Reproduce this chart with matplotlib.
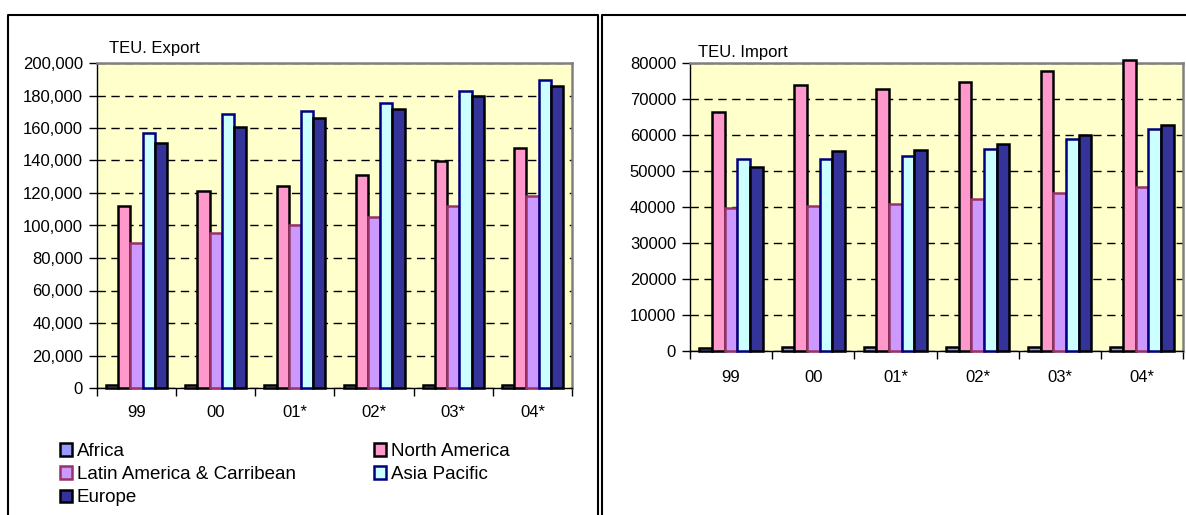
import matplotlib
matplotlib.use("Agg")
import matplotlib.pyplot as plt
import numpy as np
from matplotlib.lines import Line2D
from matplotlib.ticker import FuncFormatter, FixedLocator

plt.rcParams["font.family"] = ["Liberation Sans", "DejaVu Sans"]

years = ["99", "00", "01*", "02*", "03*", "04*"]
regions = ["Africa", "North America", "Latin America & Carribean", "Asia Pacific", "Europe"]

export_africa = [1800, 1800, 1800, 1900, 1900, 2000]
export_north_america = [112000, 121500, 124000, 131000, 139500, 147500]
export_latin_america = [89000, 95500, 100500, 105500, 112000, 118000]
export_asia_pacific = [157000, 168500, 170500, 175500, 182500, 189500]
export_europe = [151000, 160500, 166000, 172000, 180000, 186000]

import_africa = [900, 1000, 1100, 1100, 1200, 1200]
import_north_america = [66500, 74000, 72700, 74700, 77700, 80700]
import_latin_america = [39600, 40300, 40800, 42200, 44000, 45500]
import_asia_pacific = [53200, 53200, 54200, 56200, 59000, 61800]
import_europe = [51200, 55600, 55800, 57500, 60000, 62800]

faces = ["#9999FF", "#FF99CC", "#CC99FF", "#CCFFFF", "#333399"]
edges = ["black", "black", "#993366", "#000080", "black"]

W, H = 1186, 515
fig = plt.figure(figsize=(W / 100, H / 100), dpi=100)


def px(x0, y0, x1, y1):
    # pixel box -> figure fraction rect
    return [x0 / W, 1 - y1 / H, (x1 - x0) / W, (y1 - y0) / H]


def draw(ax, series, ymax, step, fmt, xpad):
    x = np.arange(len(years))
    w = 1 / 6.5
    bars = []
    for j, vals in enumerate(series):
        b = ax.bar(x + (j - 2) * w, vals, width=w, color=faces[j],
                   edgecolor=edges[j], linewidth=1.8, zorder=3, clip_on=False)
        bars.append(b)
    ax.set_xlim(-0.5, len(years) - 0.5)
    ax.set_ylim(0, ymax)
    ax.set_facecolor("#FFFFCC")
    ax.set_yticks(np.arange(0, ymax + 1, step))
    ax.yaxis.set_major_formatter(FuncFormatter(fmt))
    ax.grid(axis="y", color="black", linestyle=(0, (6, 4)), linewidth=1, zorder=1)
    ax.xaxis.set_major_locator(FixedLocator(np.arange(-0.5, len(years), 1)))
    ax.xaxis.set_minor_locator(FixedLocator(x))
    ax.set_xticklabels([])
    ax.set_xticklabels(years, minor=True)
    ax.tick_params(axis="x", which="major", length=6, width=1, direction="out")
    ax.tick_params(axis="x", which="minor", length=0, pad=xpad, labelsize=12)
    ax.tick_params(axis="y", length=6, width=1, direction="out", labelsize=12, pad=4)
    for s in ["top", "right"]:
        ax.spines[s].set_color("#808080")
        ax.spines[s].set_linewidth(1.8)
    for s in ["left", "bottom"]:
        ax.spines[s].set_color("black")
        ax.spines[s].set_linewidth(1)
    return bars


ax1 = fig.add_axes(px(97, 63, 572, 388))
bars = draw(ax1,
            [export_africa, export_north_america, export_latin_america,
             export_asia_pacific, export_europe],
            200000, 20000, lambda v, p: f"{int(v):,}", 12)
fig.text(109 / W, 1 - 49 / H, "TEU. Export", fontsize=12, va="center", ha="left")

ax2 = fig.add_axes(px(690, 63, 1183, 351))
draw(ax2,
     [import_africa, import_north_america, import_latin_america,
      import_asia_pacific, import_europe],
     80000, 10000, lambda v, p: f"{int(v)}", 14)
fig.text(698 / W, 1 - 52 / H, "TEU. Import", fontsize=12, va="center", ha="left")

order = [0, 2, 4, 1, 3]
fig.legend([bars[i] for i in order], [regions[i] for i in order],
           ncol=2, loc="upper left", bbox_to_anchor=(60 / W, 1 - 443 / H),
           frameon=False, fontsize=13.5, handlelength=0.65, handleheight=0.65,
           handletextpad=0.25, columnspacing=4.15, labelspacing=0.33,
           borderpad=0, borderaxespad=0)

# panel frames
def fline(xs, ys, **kw):
    fig.add_artist(Line2D([v / W for v in xs], [1 - v / H for v in ys],
                          transform=fig.transFigure, **kw))

fline([8, 8, 598, 598], [515, 15, 15, 515], color="black", lw=1.5)
fline([602, 602, 1186], [515, 15, 15], color="black", lw=1.5)

fig.savefig("out.png", dpi=100)
